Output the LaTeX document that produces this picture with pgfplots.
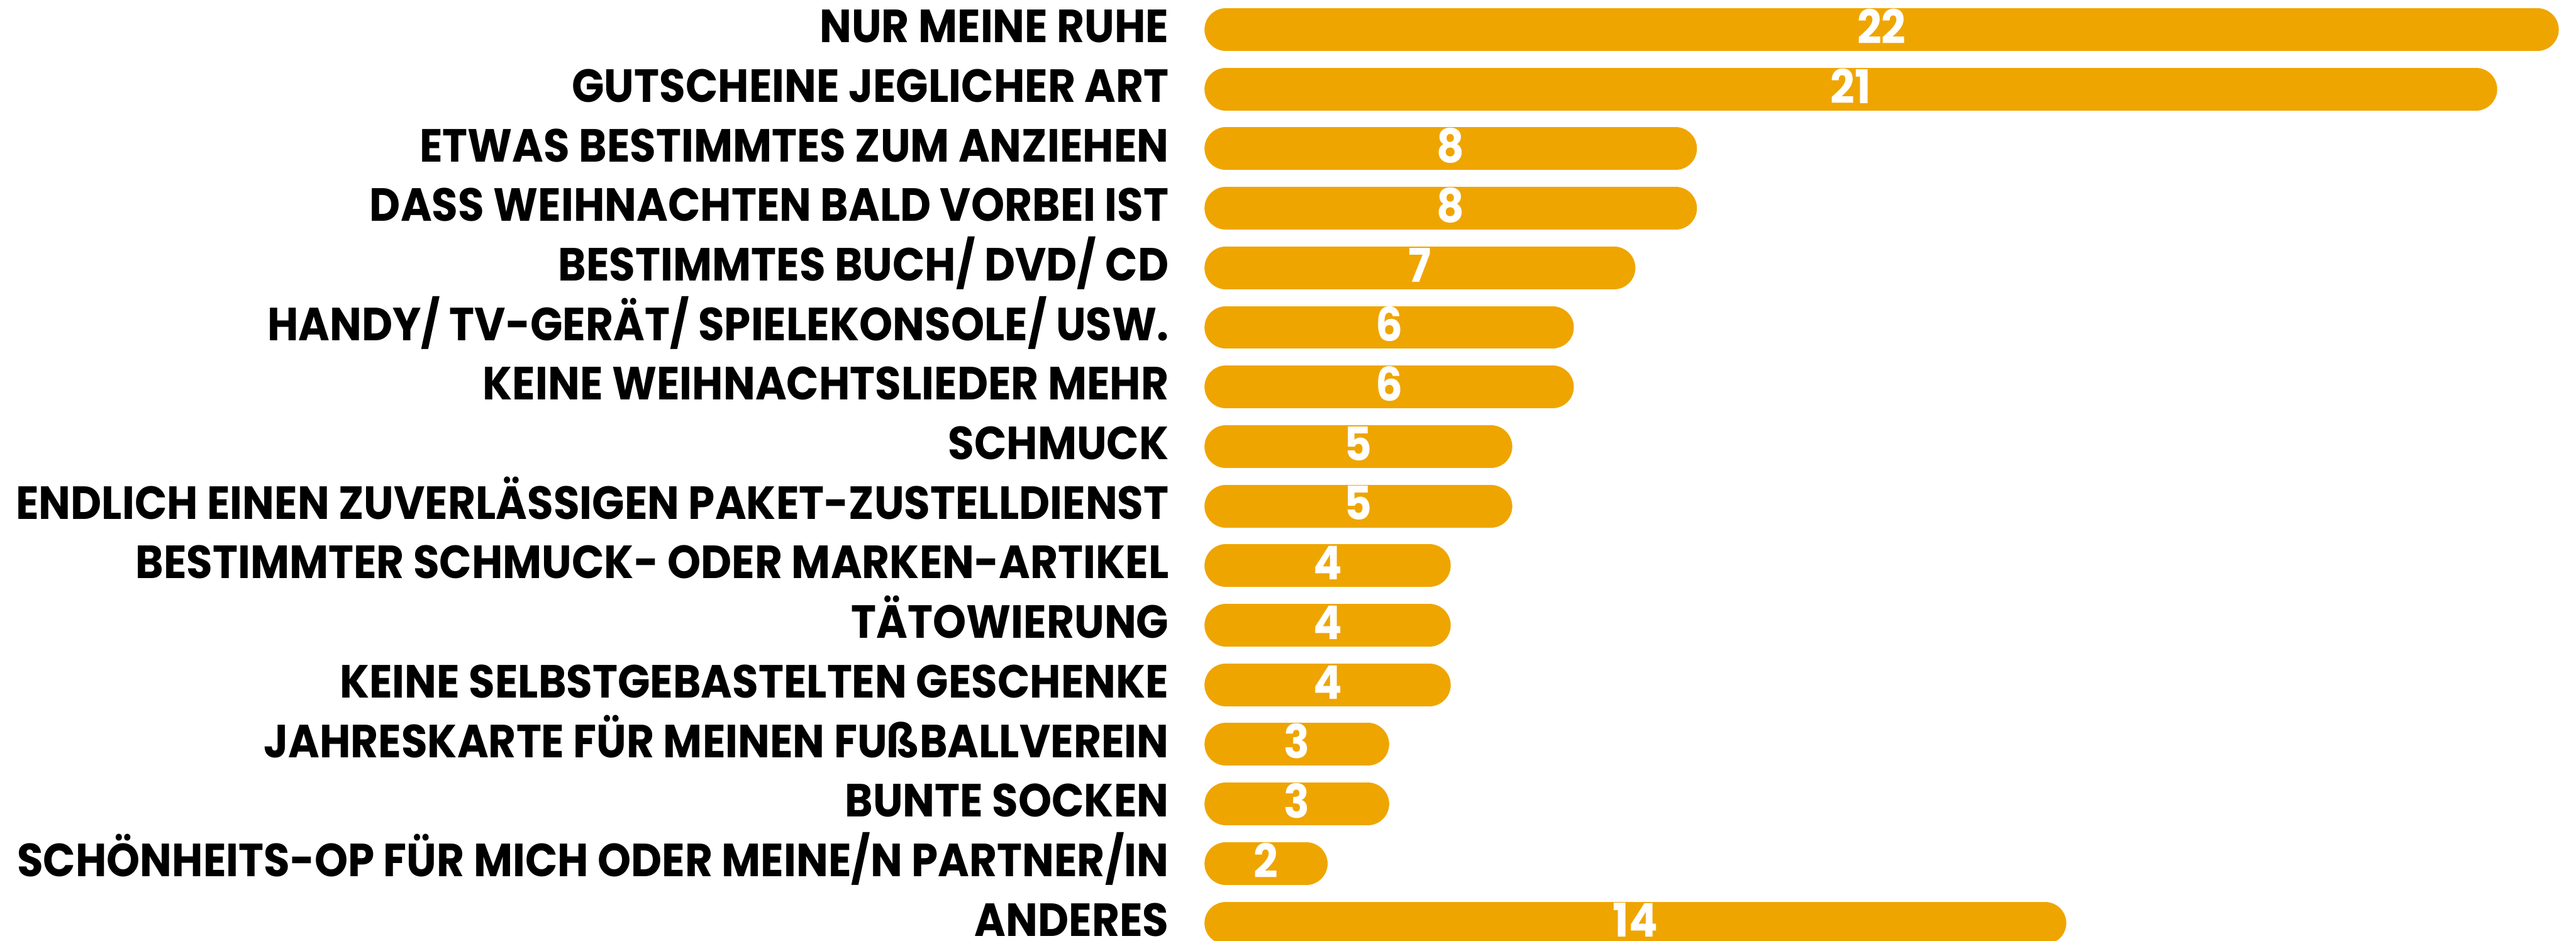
\documentclass[border=0pt]{standalone}
\usepackage{fontspec}
\setmainfont{Poppins}[FakeStretch=0.915]
\usepackage{pgfplots}
\usepackage{pgfplotstable}
\pgfplotsset{compat=1.18}
\definecolor{barorange}{RGB}{239,165,0}
\pgfplotstableread{
y v
0 22
1 21
2 8
3 8
4 7
5 6
6 6
7 5
8 5
9 4
10 4
11 4
12 3
13 3
14 2
15 14
}\data
\pgfplotsset{pill/.style={xcomb, draw=barorange, line width=7.9bp, line cap=round, shorten <=3.95bp, shorten >=3.95bp, mark=none}}
\begin{document}
\begin{tikzpicture}
\begin{axis}[
  scale only axis, width=253.8bp, height=174.1bp,
  xmin=0, xmax=22.28, ymin=-0.496, ymax=15.30, y dir=reverse,
  axis line style={draw=none},
  xtick=\empty,
  ytick={0,...,15},
  major tick length=0pt,
  /pgf/number format/assume math mode=true,
  yticklabels={NUR MEINE RUHE, GUTSCHEINE JEGLICHER ART, ETWAS BESTIMMTES ZUM ANZIEHEN, DASS WEIHNACHTEN BALD VORBEI IST, BESTIMMTES BUCH/ DVD/ CD, HANDY/ TV-GERÄT/ SPIELEKONSOLE/ USW., KEINE WEIHNACHTSLIEDER MEHR, SCHMUCK, ENDLICH EINEN ZUVERLÄSSIGEN PAKET-ZUSTELLDIENST, BESTIMMTER SCHMUCK- ODER MARKEN-ARTIKEL, TÄTOWIERUNG, KEINE SELBSTGEBASTELTEN GESCHENKE, JAHRESKARTE FÜR MEINEN FUßBALLVEREIN, BUNTE SOCKEN, SCHÖNHEITS-OP FÜR MICH ODER MEINE/N PARTNER/IN, ANDERES},
  yticklabel style={anchor=base east, inner sep=0pt, xshift=-6.4bp, yshift=-2.4bp, font=\bfseries\fontsize{8.6bp}{10bp}\selectfont},
  clip=true,
]
\addplot[pill] coordinates {(22,0)};
\addplot[pill] coordinates {(21,1)};
\addplot[pill] coordinates {(8,2)};
\addplot[pill] coordinates {(8,3)};
\addplot[pill] coordinates {(7,4)};
\addplot[pill] coordinates {(6,5)};
\addplot[pill] coordinates {(6,6)};
\addplot[pill] coordinates {(5,7)};
\addplot[pill] coordinates {(5,8)};
\addplot[pill] coordinates {(4,9)};
\addplot[pill] coordinates {(4,10)};
\addplot[pill] coordinates {(4,11)};
\addplot[pill] coordinates {(3,12)};
\addplot[pill] coordinates {(3,13)};
\addplot[pill] coordinates {(2,14)};
\addplot[pill] coordinates {(14,15)};
\addplot[draw=none, mark=none, nodes near coords, point meta=explicit,
  every node near coord/.append style={anchor=base, yshift=-2.6bp, inner sep=0pt, text=white, font=\bfseries\fontsize{8.6bp}{10bp}\selectfont}]
  table[x expr=\thisrow{v}/2, y=y, meta=v] {\data};
\end{axis}
\pgfresetboundingbox
\path (current axis.south east) ++(-476.7bp,0) rectangle (current axis.north east);
\end{tikzpicture}
\end{document}
